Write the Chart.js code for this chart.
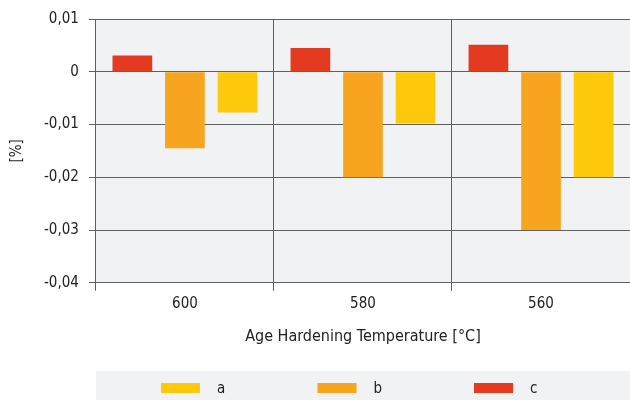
<!DOCTYPE html>
<html>
<head>
<meta charset="utf-8">
<script src="https://cdn.jsdelivr.net/npm/chart.js@4"></script>
<style>
  html, body { margin: 0; padding: 0; background: #fff; }
  #wrap { width: 630px; height: 400px; position: relative; }
</style>
</head>
<body>
<div id="wrap"><canvas id="chart"></canvas></div>
<script>
// ─── Data ─────────────────────────────────────
const categories = ['600', '580', '560'];
const seriesC = [0.0031, 0.0045, 0.0051];
const seriesB = [-0.0145, -0.0200, -0.0300];
const seriesA = [-0.0077, -0.0098, -0.0200];
const yTicks = [0.01, 0, -0.01, -0.02, -0.03, -0.04];

const COL = {
    a: '#fec80b',
    b: '#f7a51e',
    c: '#e43b20',
    panel: '#f1f2f4',
    grid: '#606060',
    text: '#222222'
};
const FONT = "'Liberation Sans Narrow', 'DejaVu Sans Condensed', sans-serif";

const fmt = v => Math.abs(v) < 1e-9 ? '0' : v.toFixed(2).replace('.', ',');

// plot background + legend panel
const panelPlugin = {
    id: 'panel',
    beforeDraw(chart) {
        const { ctx, chartArea: a } = chart;
        ctx.save();
        ctx.fillStyle = COL.panel;
        ctx.fillRect(a.left, a.top, a.right - a.left, a.bottom - a.top);
        ctx.restore();
    },
    afterDraw(chart) {
        const { ctx, chartArea: a } = chart;
        const top = 371;
        ctx.save();
        ctx.fillStyle = COL.panel;
        ctx.fillRect(a.left, top, a.right - a.left, chart.height - top);
        // legend order a, b, c (datasets are drawn c, b, a)
        const items = chart.data.datasets.slice().reverse();
        const x0 = 161, step = 156.5;
        ctx.font = '15px ' + FONT;
        ctx.textBaseline = 'middle';
        items.forEach((ds, i) => {
            const x = x0 + i * step;
            ctx.fillStyle = ds.backgroundColor;
            ctx.fillRect(x, 383, 39, 10);
            ctx.fillStyle = COL.text;
            ctx.fillText(ds.label, x + 56, 389);
        });
        ctx.restore();
    }
};

new Chart(document.getElementById('chart').getContext('2d'), {
    type: 'bar',
    data: {
        labels: categories,
        datasets: [
            { label: 'c', data: seriesC, backgroundColor: COL.c },
            { label: 'b', data: seriesB, backgroundColor: COL.b },
            { label: 'a', data: seriesA, backgroundColor: COL.a }
        ]
    },
    options: {
        responsive: true,
        maintainAspectRatio: false,
        animation: false,
        categoryPercentage: 0.886,
        barPercentage: 0.755,
        layout: { padding: { top: 17, right: 0, bottom: 54, left: 8 } },
        plugins: {
            legend: { display: false },
            tooltip: { enabled: false }
        },
        scales: {
            x: {
                grid: { offset: true, color: COL.grid, lineWidth: 1, tickLength: 8 },
                border: { display: false },
                ticks: { color: COL.text, font: { size: 15, family: FONT }, padding: 4 },
                title: {
                    display: true,
                    text: 'Age Hardening Temperature [°C]',
                    color: COL.text,
                    font: { size: 16, family: FONT },
                    padding: { top: 10, bottom: 0 }
                }
            },
            y: {
                min: -0.04,
                max: 0.01,
                afterBuildTicks: axis => { axis.ticks = yTicks.map(v => ({ value: v })); },
                grid: { color: COL.grid, lineWidth: 1, tickLength: 7 },
                border: { display: false },
                ticks: {
                    color: COL.text,
                    font: { size: 15, family: FONT },
                    padding: 10,
                    callback: v => fmt(v)
                },
                title: {
                    display: true,
                    text: '[%]',
                    color: COL.text,
                    font: { size: 15, family: FONT },
                    padding: { top: 0, bottom: 8 }
                }
            }
        }
    },
    plugins: [panelPlugin]
});
</script>
</body>
</html>
